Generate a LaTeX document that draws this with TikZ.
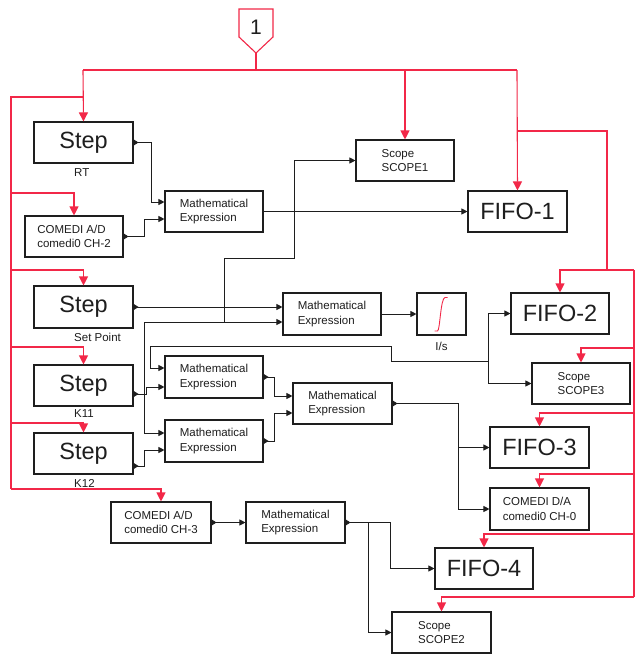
\documentclass[tikz,border=0pt]{standalone}
\usepackage{fontspec}
\setmainfont{Liberation Sans}
\usetikzlibrary{arrows.meta,calc}
\definecolor{busred}{RGB}{242,40,72}
\definecolor{inkc}{RGB}{30,30,30}
\begin{document}
\begin{tikzpicture}[x=1pt,y=-1pt,
  blk/.style={draw=inkc, line width=1.1pt, inner sep=0pt, align=left, text=inkc,
    font=\fontsize{11.5}{14.5}\selectfont},
  bigblk/.style={blk, font=\fontsize{23.5}{26}\selectfont},
  lbl/.style={inner sep=0pt, anchor=west, text=inkc, font=\fontsize{11.5}{13}\selectfont},
  wire/.style={draw=inkc, line width=0.9pt},
  sig/.style={wire, -{Triangle[width=6pt,length=6pt]}},
  sigp/.style={wire, {Triangle[reversed,width=6pt,length=5pt]}-{Triangle[width=6pt,length=6pt]}},
  portw/.style={wire, {Triangle[reversed,width=6pt,length=5pt]}-},
  redl/.style={draw=busred, line width=1.1pt},
  reda/.style={redl, -{Triangle[width=9pt,length=9pt]}}
]
\useasboundingbox[fill=white] (0,0) rectangle (635,654);

% trigger port
\draw[redl, line join=miter] (239,9) -- (273,9) -- (273,37) -- (256,53) -- (239,37) -- cycle;
\node[inner sep=0pt, text=inkc, font=\fontsize{21}{24}\selectfont] (trig) at (256,27.5) {1};
\coordinate (trigtip) at (256,53);

% blocks
\node[bigblk, minimum width=99pt, minimum height=41pt] (stepRT) at (83.5,142.5) {Step};
\node[lbl] (lblRT) at (74,172.5) {RT};
\node[blk, minimum width=98pt, minimum height=41pt] (adc2) at (74,236.5) {COMEDI A/D\\comedi0 CH-2};
\node[blk, minimum width=98pt, minimum height=41pt] (me1) at (214,211.5) {Mathematical\\Expression};
\node[blk, minimum width=98pt, minimum height=41pt] (scope1) at (405,160.5) {Scope\\SCOPE1};
\node[bigblk, minimum width=99pt, minimum height=41pt] (fifo1) at (517.5,211.5) {FIFO-1};

\node[bigblk, minimum width=99pt, minimum height=42pt] (stepSP) at (83.5,307) {Step};
\node[lbl] (lblSP) at (74,337.5) {Set Point};
\node[blk, minimum width=98pt, minimum height=42pt] (me2) at (332,314) {Mathematical\\Expression};
\node[blk, minimum width=49pt, minimum height=42pt] (integ) at (441.5,314) {};
\node[lbl, anchor=center] (lblint) at (441.5,346) {I/s};
\node[bigblk, minimum width=98pt, minimum height=41pt] (fifo2) at (560,313.5) {FIFO-2};
\node[blk, minimum width=98pt, minimum height=41pt] (scope3) at (581,383.5) {Scope\\SCOPE3};

\node[bigblk, minimum width=99pt, minimum height=41pt] (stepK11) at (83.5,385.5) {Step};
\node[lbl] (lblK11) at (74,414) {K11};
\node[bigblk, minimum width=99pt, minimum height=41pt] (stepK12) at (83.5,453.5) {Step};
\node[lbl] (lblK12) at (74,483) {K12};
\node[blk, minimum width=98pt, minimum height=42pt] (me3) at (214,377) {Mathematical\\Expression};
\node[blk, minimum width=98pt, minimum height=42pt] (me4) at (214,441) {Mathematical\\Expression};
\node[blk, minimum width=99pt, minimum height=41pt] (me5) at (342.5,403.5) {Mathematical\\Expression};
\node[bigblk, minimum width=99pt, minimum height=41pt] (fifo3) at (539.5,447.5) {FIFO-3};
\node[blk, minimum width=99pt, minimum height=42pt] (dac) at (539.5,509) {COMEDI D/A\\comedi0 CH-0};

\node[blk, minimum width=100pt, minimum height=41pt] (adc3) at (161,522.5) {COMEDI A/D\\comedi0 CH-3};
\node[blk, minimum width=99pt, minimum height=41pt] (me6) at (295.5,522.5) {Mathematical\\Expression};
\node[bigblk, minimum width=98pt, minimum height=41pt] (fifo4) at (484,568.5) {FIFO-4};
\node[blk, minimum width=99pt, minimum height=41pt] (scope2) at (441.5,632.5) {Scope\\SCOPE2};

% integrator curve
\draw[draw=busred, line width=0.9pt] (434.5,331) -- (437.5,331) .. controls (440,331) and (440.5,298) .. (445,297.5) -- (447.5,297.5);

% red trigger network
\coordinate (tb) at (256,70);
\draw[redl] (trigtip) -- (tb);
\draw[redl] (83,70) -- (517,70);
\draw[reda] (83,70) -- (stepRT.north);
\draw[reda] (405,70) -- (scope1.north);
\draw[reda] (517,70) -- (fifo1.north);
\coordinate (lb) at (11,97);
\draw[redl] (83,97) -- (lb) -- (11,489);
\draw[reda] (11,193) -| (adc2.north);
\draw[reda] (11,270) -| (stepSP.north);
\draw[reda] (11,347) -| (stepK11.north);
\draw[reda] (11,423) -| (stepK12.north);
\draw[reda] (11,489) -| (adc3.north);
\coordinate (rb) at (634,270);
\draw[redl] (517,131) -- (607,131) -- (607,270);
\draw[reda] (rb) -| (fifo2.north);
\draw[redl] (rb) -- (634,597);
\draw[reda] (634,348) -| (scope3.north);
\draw[reda] (634,413) -| (fifo3.north);
\draw[reda] (634,474) -| (dac.north);
\draw[reda] (634,534) -| (fifo4.north);
\draw[reda] (634,597) -| (scope2.north);

% signal network
\draw[sigp] (stepRT.east) -- (151,142.5) |- (me1.west |- 0,202);
\draw[sigp] (adc2.east) -- (144,236.5) |- (me1.west |- 0,219);
\draw[sig] (me1.east) -- (fifo1.west);
\draw[sigp] (stepSP.east) -- (me2.west |- 0,307);
\draw[sig] (me2.east) -- (integ.west);

\coordinate (jA) at (144,322);
\draw[sig] (jA) -- (me2.west |- 0,322);
\draw[sig] (jA) |- (me4.west |- 0,433);
\draw[sig] (224,322) |- (294,258) |- (scope1.west);

\coordinate (jB) at (488,361);
\draw[sig] (jB) |- (fifo2.west);
\draw[sig] (jB) |- (scope3.west);
\draw[sig] (jB) -- (391,361) -- (391,346) -- (150,346) |- (me3.west |- 0,368);

\draw[sigp] (stepK11.east |- 0,394) -- (146,394) |- (me3.west |- 0,387);
\draw[sigp] (stepK12.east |- 0,466) -- (144,466) |- (me4.west |- 0,450);
\draw[sigp] (me3.east) -- (274,377) |- (me5.west |- 0,396);
\draw[sigp] (me4.east) -- (274,441) |- (me5.west |- 0,413);

\draw[sigp] (me5.east) -- (458,403.5) |- (fifo3.west);
\draw[sig] (458,447.5) |- (dac.west);

\draw[sigp] (adc3.east) -- (me6.west);
\draw[sigp] (me6.east) -- (390,522.5) |- (fifo4.west);
\draw[sig] (368,522.5) |- (scope2.west);
\end{tikzpicture}
\end{document}
